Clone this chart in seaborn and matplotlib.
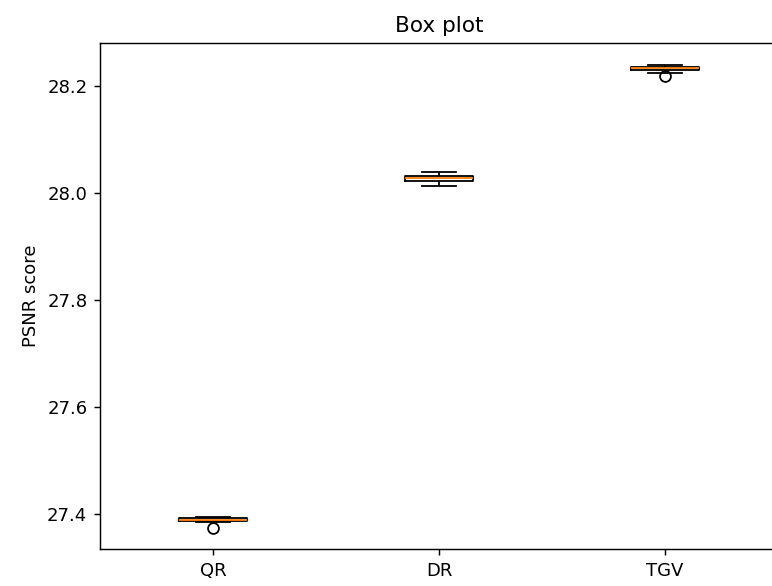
import matplotlib
matplotlib.use("Agg")
import matplotlib.pyplot as plt
import seaborn as sns
import pandas as pd

methods = ["QR", "DR", "TGV"]
qr_scores = [27.3730, 27.3856, 27.3875, 27.3875, 27.3890, 27.3896, 27.3922, 27.3922, 27.3935, 27.3950]
dr_scores = [28.0125, 28.0180, 28.0224, 28.0224, 28.0270, 28.0280, 28.0312, 28.0312, 28.0350, 28.0387]
tgv_scores = [28.2195, 28.2245, 28.2299, 28.2299, 28.2328, 28.2334, 28.2361, 28.2361, 28.2380, 28.2398]

df = pd.DataFrame({
    "method": ["QR"] * len(qr_scores) + ["DR"] * len(dr_scores) + ["TGV"] * len(tgv_scores),
    "psnr": qr_scores + dr_scores + tgv_scores,
})

S = 1.3  # reference looks like an upscaled default matplotlib figure

fig = plt.figure(figsize=(7.72, 5.86), dpi=100)
ax = fig.add_axes([0.1295, 0.0631, 0.8782, 0.864])

lw = 1.0 * S
sns.boxplot(
    data=df, x="method", y="psnr", order=methods, ax=ax,
    fill=False, color="black", width=0.3, linewidth=lw, whis=1.5,
    boxprops=dict(color="black", linewidth=lw),
    whiskerprops=dict(color="black", linewidth=lw),
    capprops=dict(color="black", linewidth=lw),
    medianprops=dict(color="#ff7f0e", linewidth=lw),
    flierprops=dict(marker="o", markerfacecolor="none", markeredgecolor="black",
                    markersize=6 * S, markeredgewidth=lw, linestyle="none"),
)

ax.set_ylim(27.3346, 28.281)
ax.set_yticks([27.4, 27.6, 27.8, 28.0, 28.2])
ax.tick_params(labelsize=10 * S, length=3.5 * S, width=0.8 * S, pad=3.5 * S)
ax.set_title("Box plot", fontsize=12 * S, pad=6 * S)
ax.set_ylabel("PSNR score", fontsize=10 * S, labelpad=4 * S)
ax.set_xlabel("")
for s in ax.spines.values():
    s.set_visible(True)
    s.set_color("black")
    s.set_linewidth(0.8 * S)

fig.savefig("out.png", dpi=100)
